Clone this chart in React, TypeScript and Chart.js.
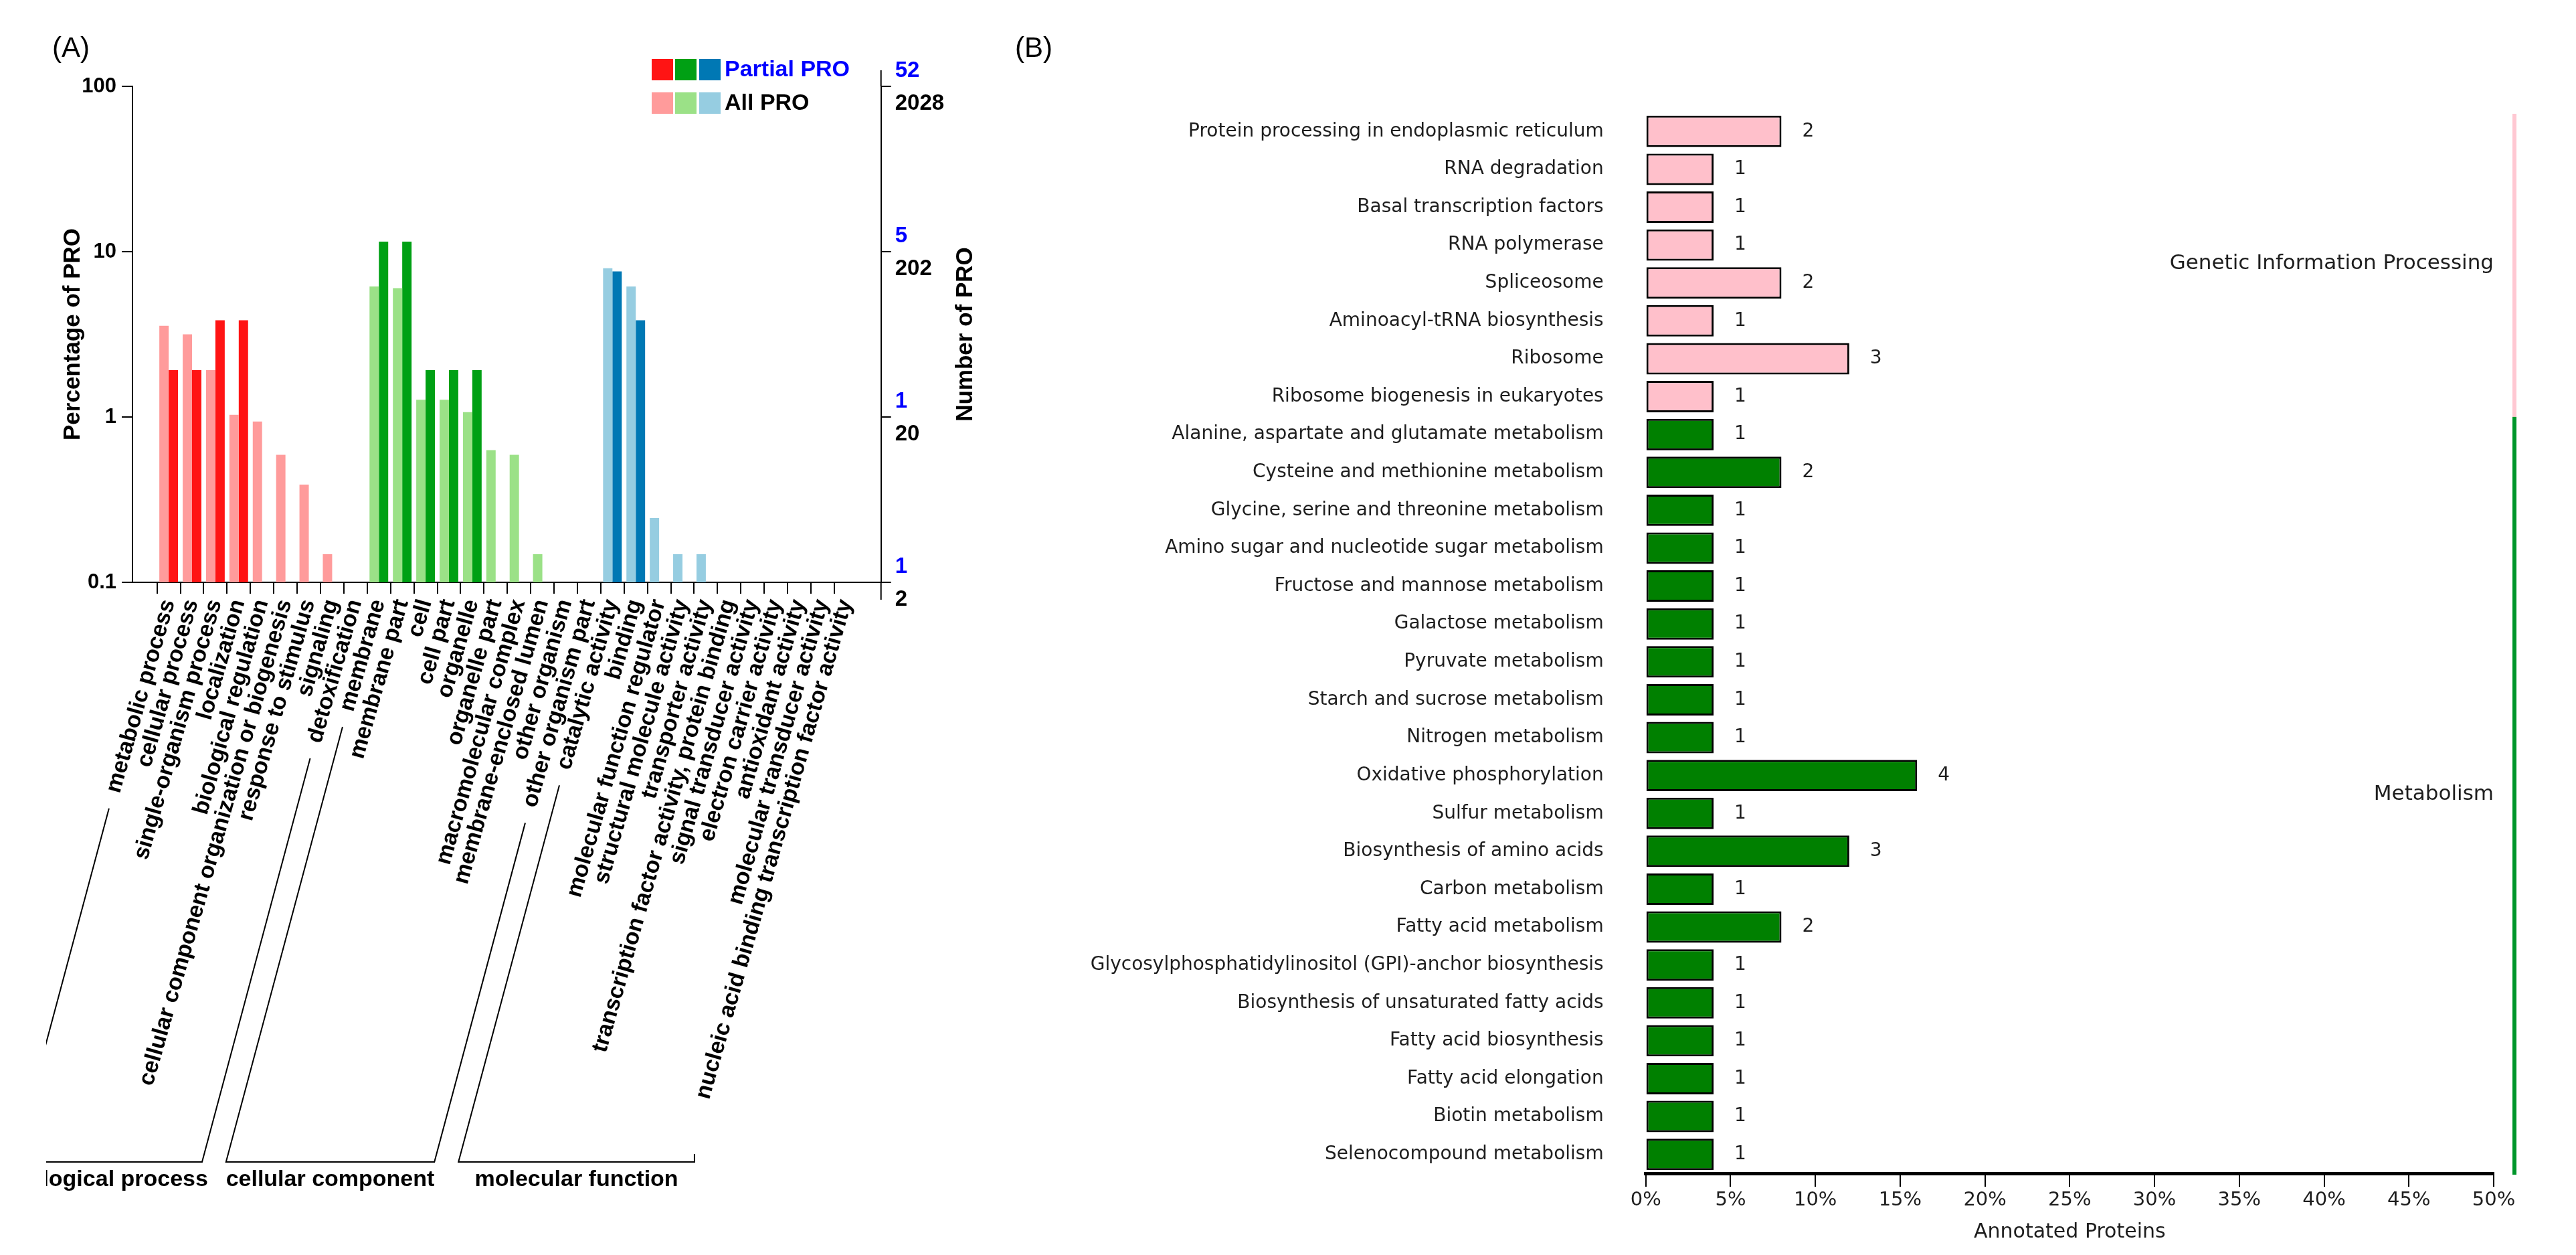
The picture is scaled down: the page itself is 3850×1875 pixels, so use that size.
import React, { useEffect, useRef } from 'react';
import { Chart, registerables } from 'chart.js';

Chart.register(...registerables);

// ---------------- Panel A data (GO classification) ----------------
const goTerms = [
  'metabolic process',
  'cellular process',
  'single-organism process',
  'localization',
  'biological regulation',
  'cellular component organization or biogenesis',
  'response to stimulus',
  'signaling',
  'detoxification',
  'membrane',
  'membrane part',
  'cell',
  'cell part',
  'organelle',
  'organelle part',
  'macromolecular complex',
  'membrane-enclosed lumen',
  'other organism',
  'other organism part',
  'catalytic activity',
  'binding',
  'molecular function regulator',
  'structural molecule activity',
  'transporter activity',
  'transcription factor activity, protein binding',
  'signal transducer activity',
  'electron carrier activity',
  'antioxidant activity',
  'molecular transducer activity',
  'nucleic acid binding transcription factor activity',
];

const goTermGroup = [
  'BP', 'BP', 'BP', 'BP', 'BP', 'BP', 'BP', 'BP', 'BP',
  'CC', 'CC', 'CC', 'CC', 'CC', 'CC', 'CC', 'CC', 'CC', 'CC',
  'MF', 'MF', 'MF', 'MF', 'MF', 'MF', 'MF', 'MF', 'MF', 'MF', 'MF',
];

const goGroupCodes = ['BP', 'CC', 'MF'];
const goGroupNames = ['biological process', 'cellular component', 'molecular function'];

// percentage of all proteins (light bars)
const allProPercent = [
  3.56, 3.16, 1.92, 1.03, 0.94, 0.59, 0.39, 0.148, null,
  6.16, 6.02, 1.27, 1.27, 1.07, 0.63, 0.59, 0.148, null, null,
  7.94, 6.16, 0.245, 0.148, 0.148, null, null, null, null, null, null,
];

// percentage of partial proteins (dark bars)
const partialProPercent = [
  1.92, 1.92, 3.85, 3.85, null, null, null, null, null,
  11.5, 11.5, 1.92, 1.92, 1.92, null, null, null, null, null,
  7.6, 3.85, null, null, null, null, null, null, null, null, null,
];

const percentTicks = [0.1, 1, 10, 100];
const percentTickLabels = ['0.1', '1', '10', '100'];
const allProCountLabels = ['2', '20', '202', '2028'];
const partialProCountLabels = ['1', '1', '5', '52'];

// ---------------- Panel B data (KEGG pathways) ----------------
const keggPathways = [
  'Protein processing in endoplasmic reticulum',
  'RNA degradation',
  'Basal transcription factors',
  'RNA polymerase',
  'Spliceosome',
  'Aminoacyl-tRNA biosynthesis',
  'Ribosome',
  'Ribosome biogenesis in eukaryotes',
  'Alanine, aspartate and glutamate metabolism',
  'Cysteine and methionine metabolism',
  'Glycine, serine and threonine metabolism',
  'Amino sugar and nucleotide sugar metabolism',
  'Fructose and mannose metabolism',
  'Galactose metabolism',
  'Pyruvate metabolism',
  'Starch and sucrose metabolism',
  'Nitrogen metabolism',
  'Oxidative phosphorylation',
  'Sulfur metabolism',
  'Biosynthesis of amino acids',
  'Carbon metabolism',
  'Fatty acid metabolism',
  'Glycosylphosphatidylinositol (GPI)-anchor biosynthesis',
  'Biosynthesis of unsaturated fatty acids',
  'Fatty acid biosynthesis',
  'Fatty acid elongation',
  'Biotin metabolism',
  'Selenocompound metabolism',
];

const keggClasses = [
  'Genetic Information Processing', 'Genetic Information Processing',
  'Genetic Information Processing', 'Genetic Information Processing',
  'Genetic Information Processing', 'Genetic Information Processing',
  'Genetic Information Processing', 'Genetic Information Processing',
  'Metabolism', 'Metabolism', 'Metabolism', 'Metabolism', 'Metabolism',
  'Metabolism', 'Metabolism', 'Metabolism', 'Metabolism', 'Metabolism',
  'Metabolism', 'Metabolism', 'Metabolism', 'Metabolism', 'Metabolism',
  'Metabolism', 'Metabolism', 'Metabolism', 'Metabolism', 'Metabolism',
];

const keggClassOrder = ['Genetic Information Processing', 'Metabolism'];

const keggPercent = [
  8, 4, 4, 4, 8, 4, 12, 4,
  4, 8, 4, 4, 4, 4, 4, 4, 4, 16, 4, 12, 4, 8, 4, 4, 4, 4, 4, 4,
];

const keggCounts = [
  2, 1, 1, 1, 2, 1, 3, 1,
  1, 2, 1, 1, 1, 1, 1, 1, 1, 4, 1, 3, 1, 2, 1, 1, 1, 1, 1, 1,
];

// ---------------- styles ----------------
const FONT_A = '"Liberation Sans", Arial, Helvetica, sans-serif';
const FONT_B = '"DejaVu Sans", "Liberation Sans", sans-serif';

const darkColor: Record<string, string> = { BP: '#ff1414', CC: '#00a014', MF: '#0078b4' };
const lightColor: Record<string, string> = { BP: '#ff9b9b', CC: '#9be187', MF: '#96cde1' };

const keggBarColor: Record<string, string> = {
  'Genetic Information Processing': '#ffc0cb',
  Metabolism: '#008000',
};
const keggLineColor: Record<string, string> = {
  'Genetic Information Processing': '#ffc8d2',
  Metabolism: '#00962a',
};

const A_W = 1500;
const A_H = 1875;
const B_W = 2350;
const B_H = 1875;

const LABEL_ROT = 74;

const panelAPlugin = {
  id: 'panelA',
  afterDraw(chart: any) {
    const { ctx, chartArea: ca, scales } = chart;
    const xs = scales.x;
    const y2 = scales.y2;
    ctx.save();

    // panel letter
    ctx.fillStyle = '#000';
    ctx.font = `42px ${FONT_A}`;
    ctx.textAlign = 'left';
    ctx.textBaseline = 'middle';
    ctx.fillText('(A)', 78, 73);

    // right axis extensions
    ctx.strokeStyle = '#000';
    ctx.lineWidth = 2;
    ctx.beginPath();
    ctx.moveTo(ca.right, ca.top - 24);
    ctx.lineTo(ca.right, ca.top);
    ctx.moveTo(ca.right, ca.bottom);
    ctx.lineTo(ca.right, ca.bottom + 26);
    ctx.stroke();

    // partial PRO counts (blue) above each right tick
    ctx.font = `bold 33px ${FONT_A}`;
    ctx.fillStyle = '#0000ff';
    ctx.textAlign = 'left';
    percentTicks.forEach((v, i) => {
      ctx.fillText(partialProCountLabels[i], ca.right + 21, y2.getPixelForValue(v) - 23);
    });

    // right axis title
    ctx.save();
    ctx.translate(1443, (ca.top + ca.bottom) / 2);
    ctx.rotate(-Math.PI / 2);
    ctx.textAlign = 'center';
    ctx.fillStyle = '#000';
    ctx.font = `bold 35px ${FONT_A}`;
    ctx.fillText('Number of PRO', 0, 0);
    ctx.restore();

    // legend
    const swX = [974, 1009, 1045];
    const rows = [
      { y: 88, colors: goGroupCodes.map((g) => darkColor[g]), text: 'Partial PRO', color: '#0000ff' },
      { y: 138, colors: goGroupCodes.map((g) => lightColor[g]), text: 'All PRO', color: '#000' },
    ];
    ctx.font = `bold 34px ${FONT_A}`;
    rows.forEach((r) => {
      r.colors.forEach((c, k) => {
        ctx.fillStyle = c;
        ctx.fillRect(swX[k], r.y, 32, 32);
      });
      ctx.fillStyle = r.color;
      ctx.textAlign = 'left';
      ctx.fillText(r.text, 1083, r.y + 17);
    });

    // group brackets under the rotated labels
    ctx.save();
    ctx.beginPath();
    ctx.rect(69, 0, A_W, A_H);
    ctx.clip();
    const fs = 34;
    ctx.font = `bold ${fs}px ${FONT_A}`;
    const rot = (LABEL_ROT * Math.PI) / 180;
    const labelY = xs.top + 17 + 4 + ((fs * 1.2) / 2) * Math.cos(rot);
    const endOf = (i: number) => {
      const px = xs.getPixelForValue(i);
      const L = ctx.measureText(goTerms[i]).width + 25;
      return { x: px - L * Math.cos(rot), y: labelY + L * Math.sin(rot) };
    };
    const baseY = 1736;
    const k = 1 / Math.tan((75 * Math.PI) / 180);
    const toBase = (p: { x: number; y: number }) => p.x - (baseY - p.y) * k;
    ctx.strokeStyle = '#000';
    ctx.lineWidth = 2;
    goGroupCodes.forEach((g, gi) => {
      const idx = goTermGroup.map((v, i) => (v === g ? i : -1)).filter((i) => i >= 0);
      const first = idx[0];
      const last = idx[idx.length - 1];
      const a = endOf(first);
      const ax = toBase(a);
      const b = endOf(last);
      const isLast = gi === goGroupCodes.length - 1;
      const bx = isLast ? b.x - 6 : toBase(b);
      ctx.beginPath();
      ctx.moveTo(a.x, a.y);
      ctx.lineTo(ax, baseY);
      ctx.lineTo(bx, baseY);
      if (isLast) ctx.lineTo(bx, baseY - 12);
      else ctx.lineTo(b.x, b.y);
      ctx.stroke();
      ctx.fillStyle = '#000';
      ctx.textAlign = 'center';
      ctx.textBaseline = 'middle';
      ctx.fillText(goGroupNames[gi], (ax + bx) / 2, 1763);
    });
    ctx.restore();

    ctx.restore();
  },
};

const panelBPlugin = {
  id: 'panelB',
  afterDraw(chart: any) {
    const { ctx, chartArea: ca, scales } = chart;
    const ys = scales.y;
    const meta = chart.getDatasetMeta(0);
    ctx.save();

    ctx.fillStyle = '#000';
    ctx.font = `42px ${FONT_A}`;
    ctx.textAlign = 'left';
    ctx.textBaseline = 'middle';
    ctx.fillText('(B)', 17, 73);

    // value labels
    ctx.font = `28px ${FONT_B}`;
    ctx.fillStyle = '#1e1e1e';
    meta.data.forEach((bar: any, i: number) => {
      ctx.fillText(String(keggCounts[i]), bar.x + 31, bar.y);
    });

    // class labels and side bars
    const rowH = ys.getPixelForValue(1) - ys.getPixelForValue(0);
    keggClassOrder.forEach((cls) => {
      const idx = keggClasses.map((v, i) => (v === cls ? i : -1)).filter((i) => i >= 0);
      const top = ys.getPixelForValue(idx[0]) - rowH / 2;
      const bottom = ys.getPixelForValue(idx[idx.length - 1]) + rowH / 2;
      ctx.fillStyle = keggLineColor[cls];
      ctx.fillRect(ca.right + 28, top + 2, 6, bottom - top);
      ctx.fillStyle = '#1e1e1e';
      ctx.font = `31px ${FONT_B}`;
      ctx.textAlign = 'right';
      ctx.fillText(cls, ca.right, (top + bottom) / 2);
    });

    ctx.restore();
  },
};

export default function App() {
  const refA = useRef<HTMLCanvasElement>(null);
  const refB = useRef<HTMLCanvasElement>(null);

  useEffect(() => {
    const setDecadeTicks = (s: any) => {
      s.ticks = percentTicks.map((v) => ({ value: v }));
    };

    const chartA = new Chart(refA.current as HTMLCanvasElement, {
      type: 'bar',
      data: {
        datasets: [
          {
            label: 'All PRO',
            data: allProPercent.map((v, i) => ({ x: i, y: v })) as any,
            backgroundColor: goTermGroup.map((g) => lightColor[g]),
            borderWidth: 0,
            categoryPercentage: 0.8,
            barPercentage: 1,
            yAxisID: 'y',
          },
          {
            label: 'Partial PRO',
            data: partialProPercent.map((v, i) => ({ x: i, y: v })) as any,
            backgroundColor: goTermGroup.map((g) => darkColor[g]),
            borderWidth: 0,
            categoryPercentage: 0.8,
            barPercentage: 1,
            yAxisID: 'y',
          },
        ],
      },
      options: {
        responsive: false,
        animation: false,
        layout: { padding: { top: 129, left: 0, right: 0, bottom: 0 } },
        plugins: { legend: { display: false }, tooltip: { enabled: false } },
        scales: {
          x: {
            type: 'linear',
            min: -1.55,
            max: 30.5,
            offset: false,
            afterBuildTicks: (s: any) => {
              s.ticks = goTerms.map((_, i) => ({ value: i }));
            },
            afterFit: (s: any) => {
              s.height = A_H - 870;
            },
            ticks: {
              autoSkip: false,
              minRotation: LABEL_ROT,
              maxRotation: LABEL_ROT,
              padding: 4,
              color: '#000',
              font: { family: FONT_A, size: 34, weight: 'bold' },
              callback: (_v: any, i: number) => goTerms[i],
            },
            grid: {
              offset: true,
              drawOnChartArea: false,
              tickLength: 17,
              lineWidth: 2,
              color: (c: any) => (c.type === 'tick' ? '#000' : 'rgba(0,0,0,0)'),
            },
            border: { display: true, color: '#000', width: 2 },
          } as any,
          y: {
            type: 'logarithmic',
            position: 'left',
            min: 0.1,
            max: 100,
            afterBuildTicks: setDecadeTicks,
            afterFit: (s: any) => {
              s.width = 198;
            },
            ticks: {
              padding: 8,
              color: '#000',
              font: { family: FONT_A, size: 31, weight: 'bold' },
              callback: (_v: any, i: number) => percentTickLabels[i],
            },
            grid: { drawOnChartArea: false, tickLength: 16, lineWidth: 2, color: '#000' },
            border: { display: true, color: '#000', width: 2 },
            title: {
              display: true,
              text: 'Percentage of PRO',
              color: '#000',
              font: { family: FONT_A, size: 35, weight: 'bold' },
              padding: { top: 88, bottom: 0 },
            },
          } as any,
          y2: {
            type: 'logarithmic',
            position: 'right',
            min: 0.1,
            max: 100,
            afterBuildTicks: setDecadeTicks,
            afterFit: (s: any) => {
              s.width = A_W - 1316.7;
            },
            ticks: {
              padding: 6,
              labelOffset: 26,
              color: '#000',
              font: { family: FONT_A, size: 33, weight: 'bold' },
              callback: (_v: any, i: number) => allProCountLabels[i],
            },
            grid: { drawOnChartArea: false, tickLength: 15, lineWidth: 2, color: '#000' },
            border: { display: true, color: '#000', width: 2 },
          } as any,
        },
      },
      plugins: [panelAPlugin],
    });

    const chartB = new Chart(refB.current as HTMLCanvasElement, {
      type: 'bar',
      data: {
        labels: keggPathways,
        datasets: [
          {
            label: 'Annotated Proteins',
            data: keggPercent,
            backgroundColor: keggClasses.map((c) => keggBarColor[c]),
            borderColor: '#000',
            borderWidth: 3,
            borderSkipped: false,
            categoryPercentage: 0.83,
            barPercentage: 1,
          },
        ],
      },
      options: {
        indexAxis: 'y',
        responsive: false,
        animation: false,
        layout: { padding: { top: 168, right: 123, left: 0, bottom: 0 } },
        plugins: { legend: { display: false }, tooltip: { enabled: false } },
        scales: {
          y: {
            type: 'category',
            afterFit: (s: any) => {
              s.width = 959.7;
            },
            ticks: {
              autoSkip: false,
              padding: 63,
              color: '#1e1e1e',
              font: { family: FONT_B, size: 28 },
            },
            grid: { display: false, drawTicks: false },
            border: { display: false },
          } as any,
          x: {
            type: 'linear',
            min: 0,
            max: 50,
            afterFit: (s: any) => {
              s.height = B_H - 1753;
            },
            ticks: {
              stepSize: 5,
              padding: 3,
              color: '#1e1e1e',
              font: { family: FONT_B, size: 29 },
              callback: (v: any) => `${v}%`,
            },
            grid: { drawOnChartArea: false, tickLength: 20, lineWidth: 2, color: '#000' },
            border: { display: true, color: '#000', width: 5 },
            title: {
              display: true,
              text: 'Annotated Proteins',
              color: '#1e1e1e',
              font: { family: FONT_B, size: 30 },
              padding: { top: 0, bottom: 16 },
            },
          } as any,
        },
      },
      plugins: [panelBPlugin],
    });

    return () => {
      chartA.destroy();
      chartB.destroy();
    };
  }, []);

  return (
    <div
      style={{
        position: 'absolute',
        left: 0,
        top: 0,
        width: 3850,
        height: 1875,
        background: '#fff',
        overflow: 'hidden',
      }}
    >
      <canvas
        ref={refA}
        width={A_W}
        height={A_H}
        style={{ position: 'absolute', left: 0, top: 0, width: A_W, height: A_H }}
      />
      <canvas
        ref={refB}
        width={B_W}
        height={B_H}
        style={{ position: 'absolute', left: A_W, top: 0, width: B_W, height: B_H }}
      />
    </div>
  );
}
